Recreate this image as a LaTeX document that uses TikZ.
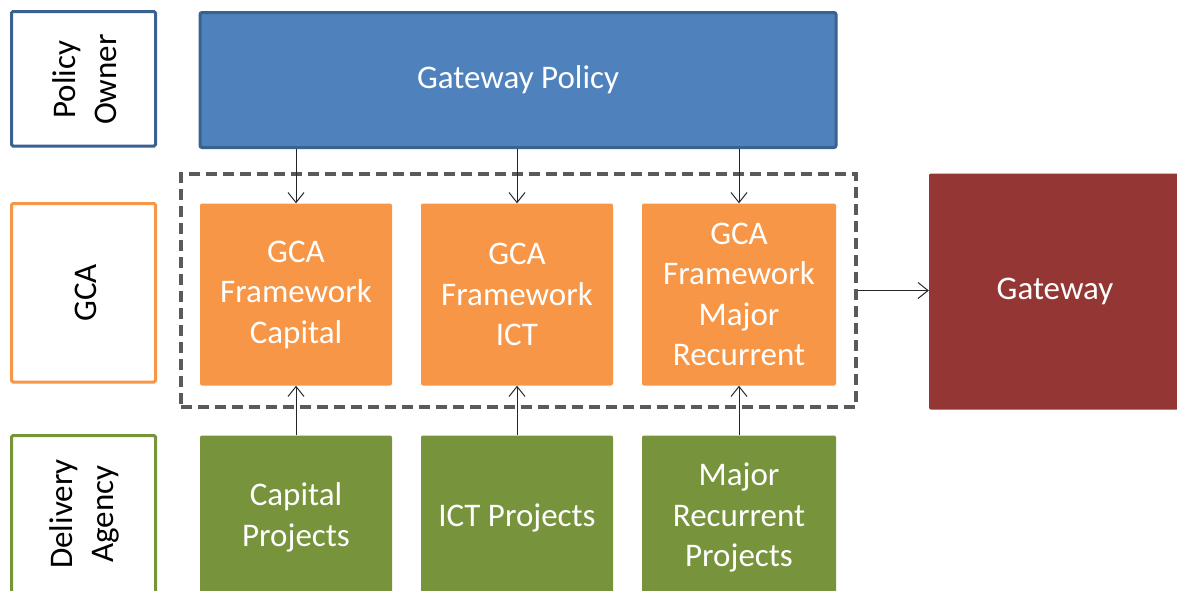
\documentclass[tikz,border=0pt]{standalone}
\usepackage{fontspec}
\setmainfont{Carlito}
\usetikzlibrary{arrows.meta}
\definecolor{pblue}{HTML}{4F81BD}
\definecolor{pbluedark}{HTML}{3A6291}
\definecolor{porange}{HTML}{F79646}
\definecolor{pgreen}{HTML}{77933C}
\definecolor{pred}{HTML}{943634}
\definecolor{pgray}{HTML}{5A5A5A}
\tikzset{
  box/.style={minimum width=#1, inner sep=0pt, align=center, rounded corners=2pt,
     font=\fontsize{33}{40.5}\selectfont},
  sidetext/.style={rotate=90, align=center, font=\fontsize{33}{40.5}\selectfont, text=black},
  conn/.style={line width=1pt, draw=black!85, -{Straight Barb[length=10pt,width=16pt,line width=1pt]}},
}
\begin{document}
\begin{tikzpicture}[x=1pt,y=-1pt]
\clip (0,0) rectangle (1177,590);
\fill[white] (0,0) rectangle (1177,590);
% side labels
\draw[pbluedark, line width=3pt, fill=white, rounded corners=1.5pt] (11.5,11.5) rectangle (155.5,146);
\node[sidetext] (lpo) at (84.5,79.5) {Policy\\Owner};
\draw[porange, line width=3pt, fill=white, rounded corners=1.5pt] (11.5,203.5) rectangle (155.5,382);
\node[sidetext] (lgca) at (85.5,293) {GCA};
\draw[pgreen, line width=3pt, fill=white, rounded corners=1.5pt] (11.5,435.5) rectangle (155.5,600);
\node[sidetext] (lda) at (84.5,514) {Delivery\\Agency};
% Gateway policy
\node[box=636pt, minimum height=135pt, fill=pblue, draw=pbluedark, line width=3pt, text=white] (gp) at (518,80) {Gateway Policy};
% dashed group
\node[draw=pgray, dash pattern=on 11pt off 6pt, line width=3.5pt, minimum width=675pt, minimum height=233pt, inner sep=0pt] (grp) at (518.5,290.5) {};
% orange
\node[box=192pt, minimum height=182pt, fill=porange, text=white] (o1) at (296,294.5) {GCA\\Framework\\Capital};
\node[box=192pt, minimum height=182pt, fill=porange, text=white] (o2) at (517,294.5) {GCA\\Framework\\ICT};
\node[box=194pt, minimum height=182pt, fill=porange, text=white] (o3) at (739,294.5) {GCA\\Framework\\Major\\Recurrent};
% green
\node[box=192pt, minimum height=164pt, fill=pgreen, text=white] (g1) at (296,517.5) {Capital\\Projects};
\node[box=192pt, minimum height=164pt, fill=pgreen, text=white] (g2) at (517,517.5) {ICT Projects};
\node[box=194pt, minimum height=164pt, fill=pgreen, text=white] (g3) at (739,517.5) {Major\\Recurrent\\Projects};
% gateway
\node[box=252pt, minimum height=236pt, fill=pred, text=white] (gw) at (1055,291.5) {Gateway};
% connectors
\draw[conn] (gp.south -| o1.north) -- (o1.north);
\draw[conn] (gp.south -| o2.north) -- (o2.north);
\draw[conn] (gp.south -| o3.north) -- (o3.north);
\draw[conn] (g1.north) -- (o1.south);
\draw[conn] (g2.north) -- (o2.south);
\draw[conn] (g3.north) -- (o3.south);
\draw[conn] (grp.east) -- (grp.east -| gw.west);
\end{tikzpicture}
\end{document}
